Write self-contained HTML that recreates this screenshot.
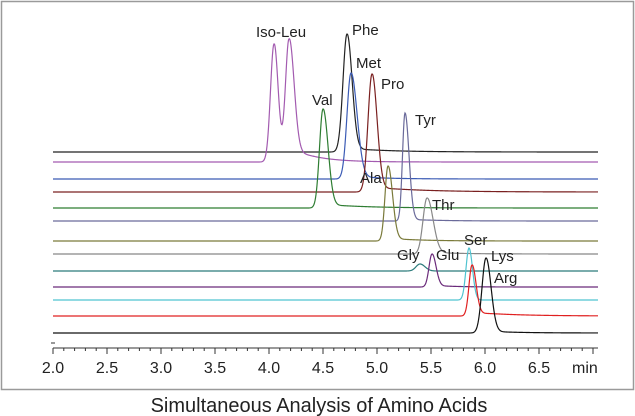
<!DOCTYPE html>
<html><head><meta charset="utf-8"><style>
html,body{margin:0;padding:0;background:#fff;}
svg{display:block;font-family:"Liberation Sans",sans-serif;}
</style></head><body>
<svg id="s" width="635" height="416" viewBox="0 0 635 416" xmlns="http://www.w3.org/2000/svg">
<rect x="1.5" y="1.5" width="632" height="388" fill="#fff" stroke="#9a9a9a" stroke-width="1.5"/>
<g id="traces" fill="none" stroke-width="1.2"></g>
<g id="axis" stroke="#333" stroke-width="1"></g>
<g font-size="15" fill="#222">
<text x="256" y="37">Iso-Leu</text>
<text x="352" y="35">Phe</text>
<text x="356" y="68">Met</text>
<text x="381" y="89">Pro</text>
<text x="312" y="105">Val</text>
<text x="415" y="125">Tyr</text>
<text x="360" y="183">Ala</text>
<text x="432" y="210">Thr</text>
<text x="397" y="260">Gly</text>
<text x="436" y="260">Glu</text>
<text x="464" y="245">Ser</text>
<text x="491" y="261">Lys</text>
<text x="494" y="283">Arg</text>
</g>
<g font-size="16" fill="#222" text-anchor="middle" id="ticklabels"></g>
<text x="572" y="373" font-size="16" fill="#222">min</text>
<text x="319" y="412" font-size="20" fill="#222" text-anchor="middle">Simultaneous Analysis of Amino Acids</text>
</svg>
<script>
var tr=[
 [152,"#222",[[347,118,4,5]],[4,40]],
 [162,"#a35bb0",[[274,118,3.5,4],[289,118,3.5,5]],[10,25]],
 [179,"#3b5bb5",[[351,106,4,6]],[3,30]],
 [192,"#7a2020",[[372,118,4,5]],[5,50]],
 [208,"#2e7d32",[[323,99,3.5,5]],[4,40]],
 [221,"#6a6a9a",[[405,108,2.5,4]],[2,30]],
 [241,"#7a7a3a",[[388,75,3,4.5]],[3,30]],
 [254,"#888",[[427,56,4,6]],[2,30]],
 [271,"#2a7a7a",[[420,7,4,5]],[0,20]],
 [287,"#6a2a7a",[[432,33,3,4]],[2,20]],
 [300,"#4fc3d0",[[469,52,3,3.5]],[0,20]],
 [316,"#e02020",[[472,51,3,4]],[4,40]],
 [333,"#111",[[486,75,4,5]],[2,30]]
];
var g=document.getElementById('traces'),NS="http://www.w3.org/2000/svg";
tr.forEach(function(t){
 var d="";
 for(var x=53;x<=598;x+=0.5){
  var y=t[0];
  t[2].forEach(function(p){var s=x<p[0]?p[2]:p[3];y-=p[1]*Math.exp(-Math.pow(x-p[0],2)/(2*s*s));
   if(x>p[0]){y-=t[3][0]*Math.exp(-(x-p[0])/t[3][1])*(1-Math.exp(-(x-p[0])/6));}});
  d+=(x==53?"M":"L")+x+" "+y.toFixed(2);
 }
 var pa=document.createElementNS(NS,"path");pa.setAttribute("d",d);pa.setAttribute("stroke",t[1]);g.appendChild(pa);
});
var a=document.getElementById('axis'),L=document.getElementById('ticklabels');
function line(x1,y1,x2,y2){var l=document.createElementNS(NS,"line");l.setAttribute("x1",x1);l.setAttribute("y1",y1);l.setAttribute("x2",x2);l.setAttribute("y2",y2);a.appendChild(l);}
line(53,348,598,348);line(51,343,55,343);
for(var i=0;i<=50;i++){var x=53+10.8*i;if(x>598)break;line(x,348,x,i%5==0?354:351);
 if(i%5==0&&i<=45){var tx=document.createElementNS(NS,"text");tx.setAttribute("x",x);tx.setAttribute("y",373);tx.textContent=(2+i/10).toFixed(1);L.appendChild(tx);}}
</script>
</body></html>
